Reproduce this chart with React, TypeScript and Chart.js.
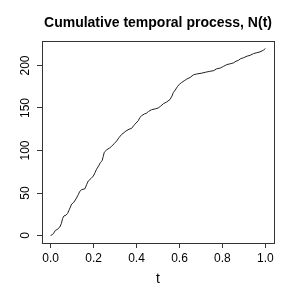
import React, { useEffect, useRef } from "react";
import { Chart, registerables } from "chart.js";

Chart.register(...registerables);

const titleText = "Cumulative temporal process, N(t)";
const xLabel = "t";

const tValues = [
  0.0, 0.008, 0.015, 0.022, 0.03, 0.043, 0.05, 0.056, 0.062, 0.072, 0.079, 0.088, 0.098,
  0.108, 0.118, 0.129, 0.136, 0.145, 0.16, 0.168, 0.175, 0.188, 0.199, 0.207, 0.214,
  0.224, 0.232, 0.24, 0.245, 0.25, 0.262, 0.275, 0.284, 0.296, 0.307, 0.318, 0.331,
  0.342, 0.351, 0.365, 0.377, 0.386, 0.393, 0.408, 0.416, 0.424, 0.437, 0.447, 0.456,
  0.47, 0.488, 0.501, 0.512, 0.525, 0.54, 0.556, 0.565, 0.571, 0.58, 0.59, 0.6, 0.61,
  0.622, 0.634, 0.65, 0.665, 0.68, 0.704, 0.72, 0.739, 0.76, 0.772, 0.79, 0.805, 0.82,
  0.836, 0.851, 0.863, 0.874, 0.885, 0.897, 0.915, 0.929, 0.945, 0.96, 0.975, 0.991, 1.0,
];
const nValues = [
  0, 1, 3, 6, 7, 10, 14, 20, 23, 24, 26, 31, 37,
  39, 43, 48, 52, 54, 55, 60, 64, 67, 70, 74, 78,
  82, 86, 88, 93, 98, 101, 103, 105, 108, 111, 115, 119,
  121, 123, 125, 126, 129, 131, 135, 139, 141, 143, 144, 146,
  148, 149, 150, 152, 155, 157, 160, 164, 168, 171, 175, 178, 180,
  182, 184, 186, 189, 190, 191, 192, 193, 194, 196, 197, 199, 201,
  202, 203, 205, 206, 208, 209, 211, 212, 214, 215, 216, 218, 220,
];

const xTicks = [0, 0.2, 0.4, 0.6, 0.8, 1.0];
const yTicks = [0, 50, 100, 150, 200];

const FONT = "'Liberation Sans', Arial, Helvetica, sans-serif";

export default function App() {
  const ref = useRef<HTMLCanvasElement>(null);

  useEffect(() => {
    const canvas = ref.current;
    if (!canvas) return;

    const textPlugin = {
      id: "rText",
      afterDraw(chart: any) {
        const ctx = chart.ctx as CanvasRenderingContext2D;
        const a = chart.chartArea;
        ctx.save();
        ctx.strokeStyle = "#333";
        ctx.lineWidth = 1;
        ctx.strokeRect(
          Math.round(a.left) + 0.5,
          Math.round(a.top) + 0.5,
          Math.round(a.right - a.left),
          Math.round(a.bottom - a.top)
        );
        ctx.fillStyle = "#000";
        ctx.textAlign = "center";
        ctx.textBaseline = "alphabetic";
        ctx.font = `bold 14px ${FONT}`;
        ctx.fillText(titleText, (a.left + a.right) / 2, 27);
        ctx.font = `14px ${FONT}`;
        ctx.fillText(xLabel, (a.left + a.right) / 2, 283);
        const ys = chart.scales.y;
        ctx.font = `12px ${FONT}`;
        for (const v of yTicks) {
          const py = ys.getPixelForValue(v);
          ctx.save();
          ctx.translate(29, py);
          ctx.rotate(-Math.PI / 2);
          ctx.fillText(String(v), 0, 0);
          ctx.restore();
        }
        ctx.restore();
      },
    };

    const chart = new Chart(canvas, {
      type: "line",
      data: {
        datasets: [
          {
            data: tValues.map((t, i) => ({ x: t, y: nValues[i] })),
            borderColor: "#222",
            borderWidth: 1,
            pointRadius: 0,
            fill: false,
            tension: 0,
          },
        ],
      },
      options: {
        animation: false,
        responsive: false,
        devicePixelRatio: 1,
        layout: { padding: { top: 41, right: 22, left: 0, bottom: 0 } },
        plugins: {
          legend: { display: false },
          tooltip: { enabled: false },
          title: { display: false },
        },
        scales: {
          x: {
            type: "linear",
            min: -0.04,
            max: 1.04,
            afterBuildTicks: (s: any) => {
              s.ticks = xTicks.map((v) => ({ value: v }));
            },
            afterFit: (s: any) => {
              s.height = 53;
            },
            ticks: {
              font: { size: 12, family: FONT },
              color: "#000",
              padding: 3,
              maxRotation: 0,
              minRotation: 0,
              autoSkip: false,
              callback: (v: any) => Number(v).toFixed(1),
            },
            grid: { drawOnChartArea: false, drawTicks: true, tickLength: 5, color: "#333" },
            border: { display: false },
          },
          y: {
            type: "linear",
            min: -8.8,
            max: 228.8,
            afterBuildTicks: (s: any) => {
              s.ticks = yTicks.map((v) => ({ value: v }));
            },
            afterFit: (s: any) => {
              s.width = 42;
            },
            ticks: { display: false },
            grid: { drawOnChartArea: false, drawTicks: true, tickLength: 5, color: "#333" },
            border: { display: false },
          },
        },
      },
      plugins: [textPlugin],
    });

    return () => chart.destroy();
  }, []);

  return (
    <div style={{ position: "absolute", left: 0, top: 0, width: 296, height: 296 }}>
      <canvas ref={ref} width={296} height={296} style={{ width: 296, height: 296, display: "block" }} />
    </div>
  );
}
